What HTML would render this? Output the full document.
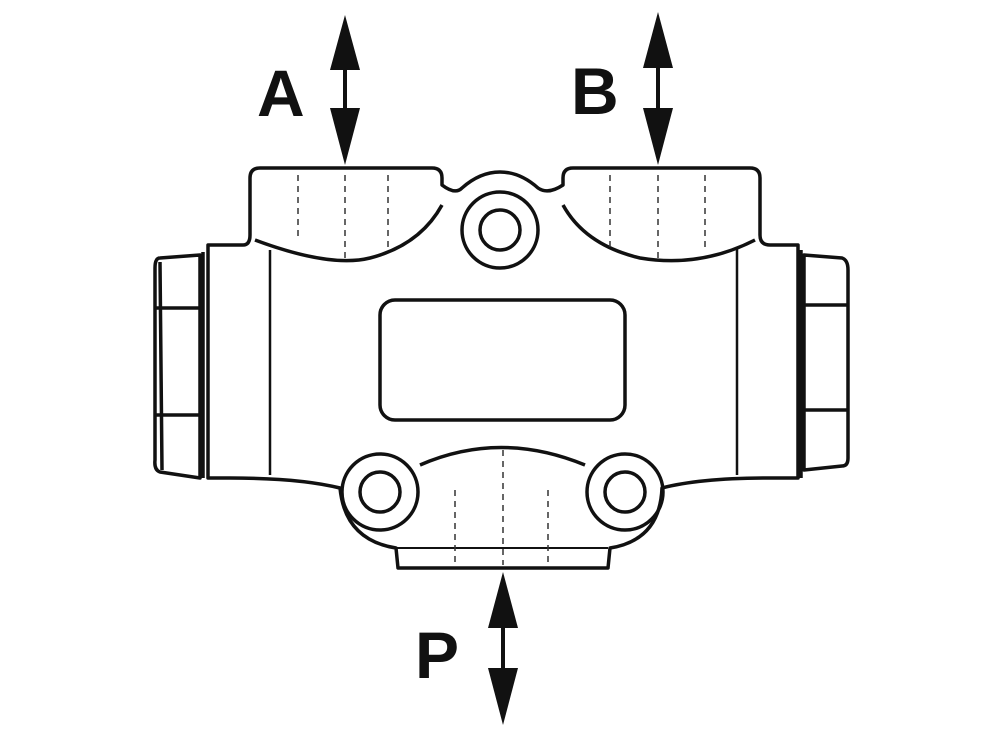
<!DOCTYPE html>
<html><head><style>html,body{margin:0;padding:0;background:#fff}svg{display:block}</style></head>
<body>
<svg width="1000" height="741" viewBox="0 0 1000 741" xmlns="http://www.w3.org/2000/svg">
<g fill="none" stroke="#111" stroke-width="3.5" stroke-linejoin="round">
<path d="M208,245 L243,245 Q250,245 250,235 L250,178 Q250,168 260,168 L432,168 Q442,168 442,178 L442,185 Q455,195 462,188 Q480,172 500,172 Q520,172 538,188 Q548,195 563,185 L563,178 Q563,168 573,168 L750,168 Q760,168 760,178 L760,235 Q760,245 770,245 L798,245 L798,478 L770,478 Q700,478 662,488 Q660,540 610,548 L608,568 L398,568 L396,548 Q345,540 340,488 Q300,478 230,478 L208,478 Z"/>
<path d="M203,252 L203,478 M160,258 L200,255 L200,478 L160,472 Q154,470 155,460 L155,268 Q155,258 160,258 Z M155,308 L200,308 M155,415 L200,415 M160,262 L162,470"/>
<path d="M801,250 L801,478 M804,255 L842,258 Q848,260 848,270 L848,458 Q848,466 842,466 L804,470 Z M804,305 L848,305 M804,410 L848,410"/>
<path d="M270,250 L270,475 M737,248 L737,475" stroke-width="2.5"/>
<path d="M255,240 Q330,268 370,258 Q420,245 442,205"/>
<path d="M563,205 Q585,245 640,258 Q700,268 755,240"/>
<circle cx="500" cy="230" r="38"/><circle cx="500" cy="230" r="20"/>
<rect x="380" y="300" width="245" height="120" rx="15"/>
<circle cx="380" cy="492" r="38"/><circle cx="380" cy="492" r="20"/>
<circle cx="625" cy="492" r="38"/><circle cx="625" cy="492" r="20"/>
<path d="M420,465 Q500,430 585,465"/>
<path d="M396,548 L608,548" stroke-width="2"/>
</g>
<g stroke="#333" stroke-width="1.5" stroke-dasharray="6,5" fill="none">
<path d="M298,175 L298,240 M388,175 L388,252 M345,175 L345,262 M610,175 L610,250 M705,175 L705,250 M658,175 L658,262 M455,490 L455,565 M548,490 L548,565 M503,450 L503,565"/>
</g>
<g fill="#111" stroke="#111" stroke-width="4">
<line x1="345" y1="60" x2="345" y2="115"/>
<line x1="658" y1="60" x2="658" y2="115"/>
<line x1="503" y1="620" x2="503" y2="675"/>
</g>
<g fill="#111">
<polygon points="345,15 330,70 360,70"/><polygon points="345,165 330,108 360,108"/>
<polygon points="658,12 643,68 673,68"/><polygon points="658,165 643,108 673,108"/>
<polygon points="503,572 488,628 518,628"/><polygon points="503,725 488,668 518,668"/>
</g>
<g font-family="Liberation Sans, sans-serif" font-size="66" font-weight="bold" fill="#111">
<text x="257" y="116">A</text>
<text x="571" y="114">B</text>
<text x="415" y="678">P</text>
</g>
</svg>
</body></html>
